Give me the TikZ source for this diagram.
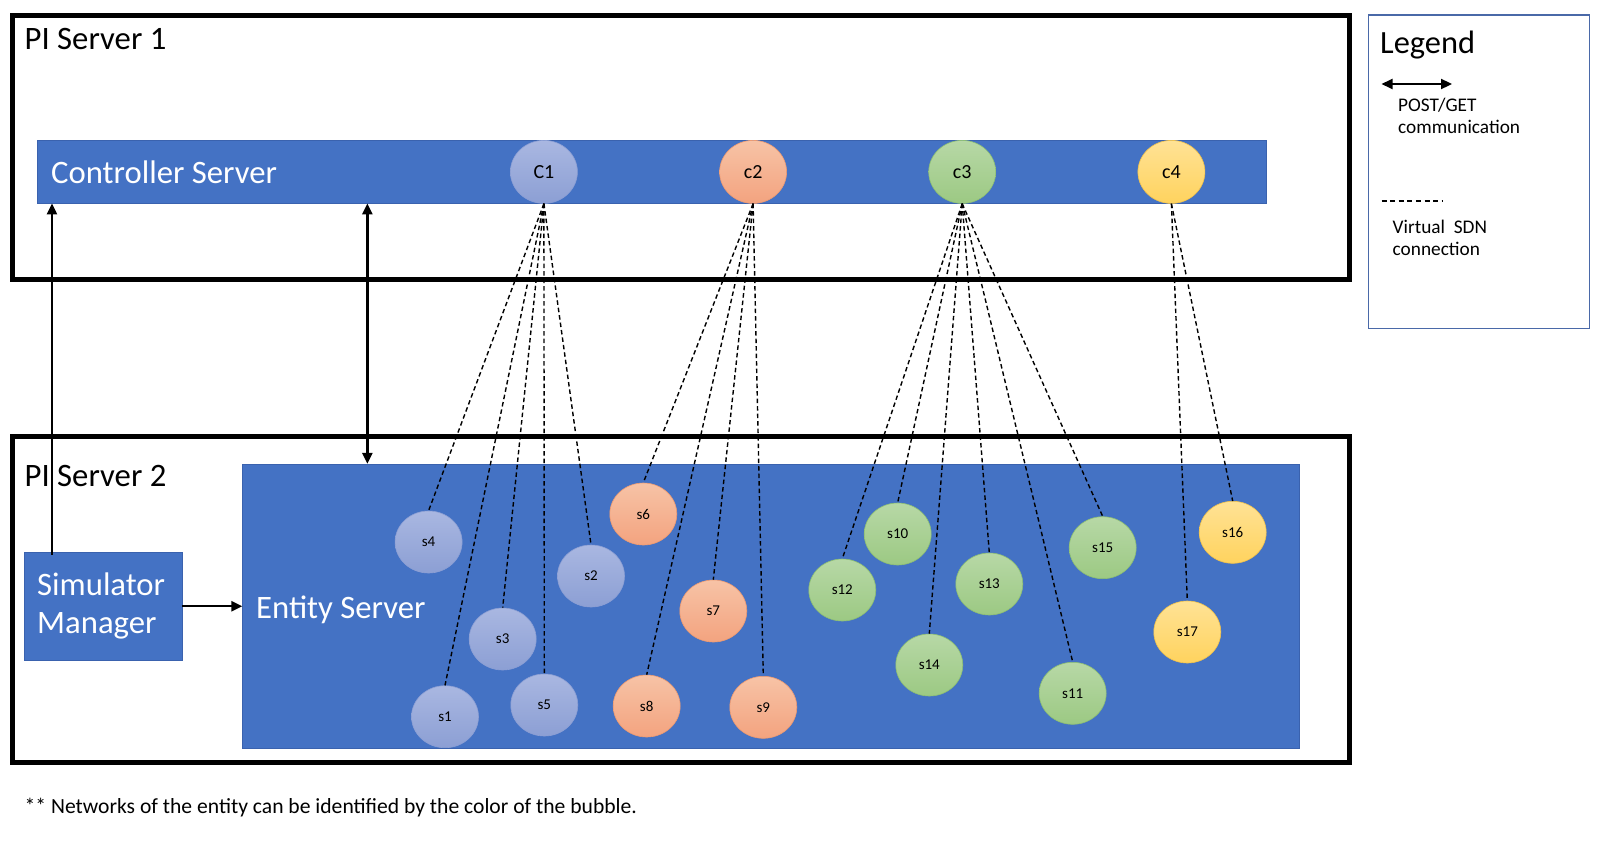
\documentclass[tikz,border=0pt]{standalone}
\usepackage{fontspec}
\setmainfont{Carlito}
\usetikzlibrary{shapes.geometric,arrows.meta}
\definecolor{barblue}{HTML}{4472C4}
\definecolor{barborder}{HTML}{3A62AE}
\definecolor{legborder}{HTML}{4A69A8}
\definecolor{bluetop}{HTML}{A9B7E1}
\definecolor{bluebot}{HTML}{8C9FD4}
\definecolor{orangetop}{HTML}{F7C3A6}
\definecolor{orangebot}{HTML}{F3A37F}
\definecolor{orangeedge}{HTML}{EE9A70}
\definecolor{greentop}{HTML}{B7D8A6}
\definecolor{greenbot}{HTML}{9CC983}
\definecolor{greenedge}{HTML}{8DBF72}
\definecolor{yellowtop}{HTML}{FFE295}
\definecolor{yellowbot}{HTML}{FFD35E}
\definecolor{yellowedge}{HTML}{F2C24A}
\tikzset{
  pibox/.style={draw=black, line width=5pt, inner sep=0pt},
  bluebox/.style={fill=barblue, draw=barborder, line width=0.8pt, inner sep=0pt},
  bigtext/.style={font=\fontsize{32.7}{38}\selectfont, text=black, inner sep=0pt, anchor=base west},
  whitetext/.style={font=\fontsize{32.7}{38}\selectfont, text=white, inner sep=0pt, anchor=base west},
  smalltext/.style={font=\fontsize{19.3}{22}\selectfont, text=black, inner sep=0pt, anchor=base west},
  bub/.style={ellipse, minimum width=67pt, minimum height=62pt, inner sep=0pt, text=black, font=\fontsize{15}{17}\selectfont, line width=0.6pt},
  cbub/.style={bub, minimum width=67pt, minimum height=63pt, font=\fontsize{20}{23}\selectfont},
  blueb/.style={top color=bluetop, bottom color=bluebot, draw=bluebot},
  orangeb/.style={top color=orangetop, bottom color=orangebot, draw=orangeedge},
  greenb/.style={top color=greentop, bottom color=greenbot, draw=greenedge},
  yellowb/.style={top color=yellowtop, bottom color=yellowbot, draw=yellowedge},
  sdn/.style={draw=black, line width=1.4pt, dash pattern=on 4.5pt off 3pt},
  arr/.style={draw=black, line width=2.4pt, -{Triangle[length=11pt,width=10pt]}},
  arrboth/.style={draw=black, line width=2.4pt, {Triangle[length=11pt,width=10pt]}-{Triangle[length=11pt,width=10pt]}}
}
\begin{document}
\begin{tikzpicture}[x=1pt,y=-1pt]
\useasboundingbox[fill=white] (0,0) rectangle (1600,843);

% outer server boxes
\node[pibox, minimum width=1336.8pt, minimum height=264.3pt] (pi1) at (680.6,147.5) {};
\node[pibox, minimum width=1336.8pt, minimum height=326pt] (pi2) at (680.6,599.5) {};
\node[bigtext] (pi1t) at (24.5,49) {PI Server 1};
\node[bigtext] (pi2t) at (24.5,486.5) {PI Server 2};

% controller bar
\node[bluebox, minimum width=1228.8pt, minimum height=62.2pt] (ctrl) at (651.9,171.9) {};
\node[whitetext] (ctrlt) at (51,183.5) {Controller Server};

% entity server
\node[bluebox, minimum width=1056.3pt, minimum height=284pt] (ent) at (770.9,606.3) {};
\node[whitetext] (entt) at (256,618) {Entity Server};

% simulator manager
\node[bluebox, minimum width=157.7pt, minimum height=107.7pt, text=white, align=left,
      font=\fontsize{32.7}{38.3}\selectfont] (sim) at (103.2,606.2) {\hspace*{-4pt}Simulator\\\hspace*{-4pt}Manager};

% legend
\node[draw=legborder, line width=1.3pt, minimum width=221pt, minimum height=313.3pt, inner sep=0pt] (leg) at (1478.8,171.7) {};
\node[font=\fontsize{32.4}{36}\selectfont, inner sep=0pt, anchor=base west] (legt) at (1380,53) {Legend};
\coordinate (la1) at (1381.5,84);
\coordinate (la2) at (1452,84);
\draw[arrboth, line width=2.2pt] (la1) -- (la2);
\node[smalltext] (post) at (1398,111.5) {POST/GET};
\node[smalltext] (comm) at (1398,133.5) {communication};
\coordinate (ld1) at (1381.5,201);
\coordinate (ld2) at (1442,201);
\draw[draw=black, line width=1.2pt, dash pattern=on 5pt off 3.6pt] (ld1) -- (ld2);
\node[smalltext] (virt) at (1392.5,233.5) {Virtual\ \ SDN};
\node[smalltext] (conn) at (1392.5,255.5) {connection};

% controllers
\node[cbub, blueb] (c1) at (543.9,171.9) {C1};
\node[cbub, orangeb] (c2) at (753.1,171.9) {c2};
\node[cbub, greenb] (c3) at (962.2,171.9) {c3};
\node[cbub, yellowb] (c4) at (1171.4,171.9) {c4};

% switches
\node[bub, blueb] (s4) at (428.6,542) {s4};
\node[bub, blueb] (s2) at (591,576) {s2};
\node[bub, blueb] (s3) at (502.7,639) {s3};
\node[bub, blueb] (s1) at (445,716.7) {s1};
\node[bub, blueb] (s5) at (544.3,705) {s5};
\node[bub, orangeb] (s6) at (643.3,514) {s6};
\node[bub, orangeb] (s7) at (713.3,611) {s7};
\node[bub, orangeb] (s8) at (646.7,706) {s8};
\node[bub, orangeb] (s9) at (763.3,707.3) {s9};
\node[bub, greenb] (s10) at (897.7,534) {s10};
\node[bub, greenb] (s12) at (842.3,590) {s12};
\node[bub, greenb] (s13) at (989.3,584) {s13};
\node[bub, greenb] (s14) at (929.3,665) {s14};
\node[bub, greenb] (s15) at (1102.7,547.7) {s15};
\node[bub, greenb] (s11) at (1072.7,693.3) {s11};
\node[bub, yellowb] (s16) at (1232.7,532.3) {s16};
\node[bub, yellowb] (s17) at (1187.3,632) {s17};

% virtual SDN connections
\foreach \s in {s4,s1,s3,s5,s2} \draw[sdn] (c1.south) -- (\s.north);
\foreach \s in {s6,s8,s7,s9} \draw[sdn] (c2.south) -- (\s.north);
\foreach \s in {s12,s10,s14,s13,s11,s15} \draw[sdn] (c3.south) -- (\s.north);
\foreach \s in {s17,s16} \draw[sdn] (c4.south) -- (\s.north);

% POST/GET communication
\draw[arr] ([xshift=28pt,yshift=-3pt]sim.north west) -- ([xshift=28pt]sim.north west |- ctrl.south);
\draw[arrboth] ([xshift=125pt]ent.north west |- ctrl.south) -- ([xshift=125pt]ent.north west);
\draw[arr] (sim.east) -- (sim.east -| ent.west);

% footnote
\node[font=\fontsize{21.6}{25}\selectfont, inner sep=0pt, anchor=base west] (note) at (24.5,813) {** Networks of the entity can be identified by the color of the bubble.};
\end{tikzpicture}
\end{document}
